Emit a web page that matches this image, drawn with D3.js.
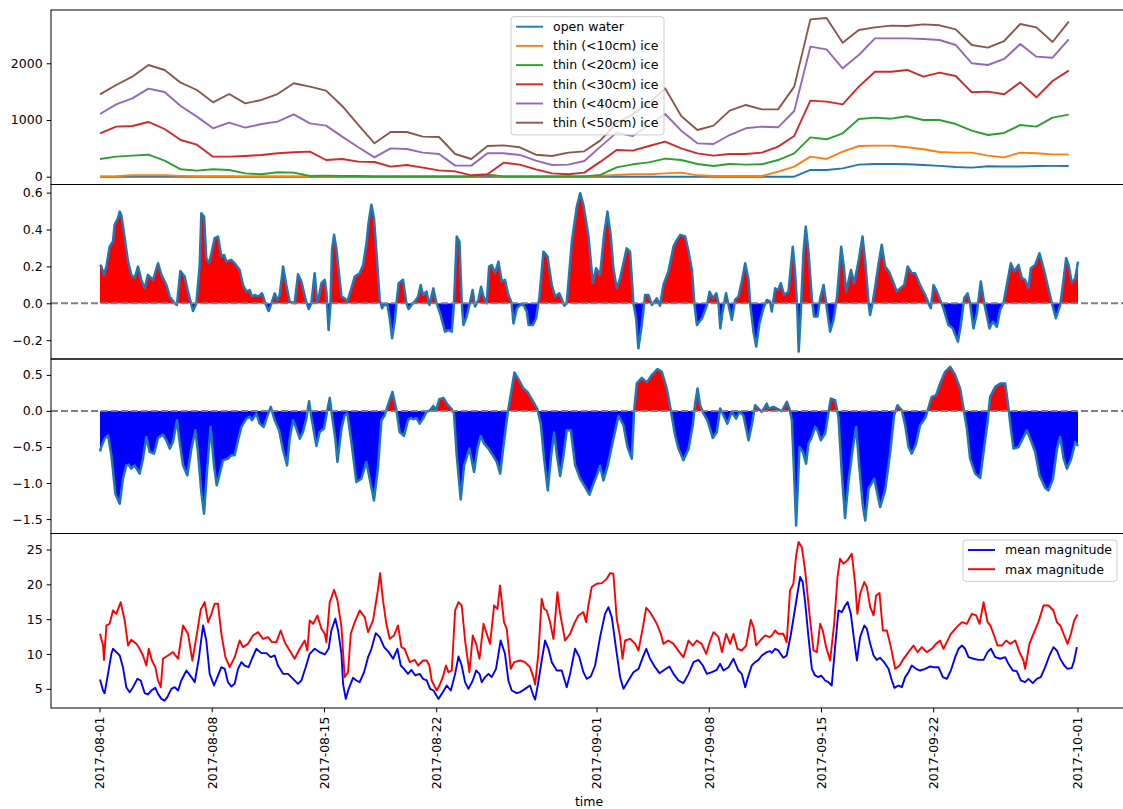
<!DOCTYPE html>
<html>
<head>
<meta charset="utf-8">
<script src="https://cdn.jsdelivr.net/npm/d3@7"></script>
<style>
  body { margin: 0; background: #fff; }
  svg { display: block; font-family: "DejaVu Sans", sans-serif; }
</style>
</head>
<body>
<svg id="chart" width="1123" height="809"></svg>
<script>
// ---- panel 1: thin ice area, one value per day ----
const iceLabels = ["open water", "thin (<10cm) ice", "thin (<20cm) ice", "thin (<30cm) ice", "thin (<40cm) ice", "thin (<50cm) ice"];
const iceColours = ["#1f77b4", "#ff7f0e", "#2ca02c", "#d62728", "#9467bd", "#8c564b"];

const openWater = [0,0,0,0,0,0,0,0,0,0,0,0,0,0,0,0,0,0,0,0,0,0,0,0,0,0,0,0,0,0,0,0,0,0,0,0,0,0,0,0,0,0,0,0,
  118,118,147,212,224,224,218,206,190,170,160,185,180,180,188,190,188];
const ice10 = [5,10,25,25,25,15,10,10,10,5,5,5,5,5,5,5,5,5,5,5,5,5,5,5,30,5,5,5,5,5,5,
  18,30,42,42,59,71,24,12,12,12,12,88,177,353,312,441,541,547,547,518,483,435,424,424,371,341,424,412,394,394];
const ice20 = [312,353,371,388,283,130,106,130,118,59,42,77,71,12,18,12,12,6,6,6,6,6,6,6,36,6,6,6,6,6,6,
  30,165,218,253,318,294,224,188,224,212,218,294,412,694,659,765,1018,1041,1023,1065,1000,1000,929,812,735,771,912,882,1041,1094];
const ice30 = [765,882,894,965,841,647,565,353,353,365,383,412,430,441,294,312,265,259,177,206,159,112,94,24,42,247,212,130,59,42,71,
  265,471,459,541,618,500,412,371,400,400,424,530,718,1341,1323,1276,1588,1852,1852,1882,1764,1835,1776,1488,1500,1453,1664,1400,1688,1870];
const ice40 = [1106,1276,1382,1553,1494,1247,1059,853,953,865,929,971,1100,941,900,706,518,341,500,488,424,400,195,195,412,412,383,283,206,212,277,
  530,777,718,912,1106,812,588,577,735,853,882,871,1159,2293,2246,1911,2146,2440,2440,2440,2428,2411,2323,2000,1970,2076,2340,2117,2099,2423];
const ice50 = [1453,1617,1764,1970,1882,1658,1529,1312,1458,1294,1353,1458,1647,1588,1517,1247,912,588,788,788,706,700,400,312,541,553,518,388,365,424,447,
  640,950,1100,1300,1558,1070,824,900,1165,1265,1188,1188,1588,2775,2799,2364,2587,2634,2664,2658,2687,2670,2599,2323,2276,2393,2693,2634,2376,2734];
const iceSeries = [openWater, ice10, ice20, ice30, ice40, ice50];
const iceDays = d3.range(openWater.length).map(i => i * 1.007);

// ---- panels 2 and 3: [day since 2017-08-01, value] ----
const panel2 = [[0,0.208],[0.08,0.2],[0.25,0.154],[0.4,0.2],[0.6,0.307],[0.81,0.335],[0.91,0.425],[1.12,0.461],[1.23,0.497],[1.33,0.479],[1.54,0.353],[1.75,0.226],[1.95,0.154],[2.16,0.136],[2.37,0.199],[2.58,0.127],[2.79,0.081],[2.99,0.154],[3.31,0.127],[3.62,0.217],[3.83,0.154],[4.14,0.099],[4.35,0.036],[4.66,0],[4.8,-0.009],[5.01,0.175],[5.28,0.145],[5.49,0.063],[5.8,-0.042],[6.01,0],[6.22,0.208],[6.32,0.488],[6.49,0.47],[6.63,0.244],[6.8,0.217],[6.95,0.271],[7.15,0.353],[7.36,0.362],[7.57,0.253],[7.74,0.262],[7.88,0.226],[8.19,0.235],[8.4,0.217],[8.71,0.181],[8.92,0.099],[9.13,0.063],[9.34,0.072],[9.48,0.036],[9.65,0.045],[9.86,0.036],[10.11,0.054],[10.31,0],[10.52,-0.042],[10.69,0],[10.9,0.054],[11.06,0.018],[11.21,0.045],[11.42,0.199],[11.62,0.099],[11.83,0.009],[12.14,0],[12.35,0.157],[12.56,0.118],[12.83,0.018],[13.02,-0.031],[13.18,0],[13.39,0.163],[13.54,0.009],[13.64,0.027],[13.81,0.109],[14.02,0.127],[14.12,0.063],[14.26,-0.145],[14.37,-0.009],[14.47,0.289],[14.6,0.371],[14.74,0.298],[15.06,0.036],[15.26,0.027],[15.43,0.009],[15.68,0.081],[15.89,0.145],[16.2,0.163],[16.41,0.208],[16.61,0.317],[16.76,0.443],[16.93,0.534],[17.09,0.461],[17.24,0.28],[17.45,0.018],[17.59,-0.027],[17.72,-0.009],[17.93,-0.009],[18.07,-0.081],[18.22,-0.19],[18.38,-0.099],[18.49,0],[18.63,0.109],[18.9,0.127],[19.11,0],[19.25,-0.031],[19.42,-0.009],[19.63,0.009],[19.84,0.036],[20.0,0.099],[20.15,0.045],[20.36,0.063],
  [20.55,-0.009],[20.79,0.081],[20.96,0.009],[21.21,-0.054],[21.52,-0.154],[21.73,-0.145],[21.94,-0.154],[22.08,0],[22.25,0.362],[22.42,0.335],[22.56,0.009],[22.67,-0.118],[22.87,-0.072],[23.04,-0.009],[23.24,0.072],[23.39,-0.018],[23.6,0.018],[23.77,0.09],[23.92,0.036],[24.12,0],[24.27,0.199],[24.43,0.208],[24.64,0.163],[24.85,0.226],[25.06,0.118],[25.26,0.127],[25.47,0.045],[25.68,0],[25.79,-0.109],[26.0,-0.027],[26.21,-0.009],[26.42,-0.009],[26.62,-0.045],[26.73,-0.118],[27.0,-0.118],[27.2,-0.081],[27.41,0.036],[27.66,0.28],[27.91,0.253],[28.18,0.099],[28.39,0.036],[28.65,0.054],[28.96,-0.013],[29.11,0],[29.43,0.335],[29.74,0.525],[29.95,0.597],[30.15,0.534],[30.47,0.362],[30.74,0.109],[30.94,0.19],[31.19,0.154],[31.44,0.371],[31.65,0.497],[31.85,0.371],[32.02,0.19],[32.23,0.081],[32.44,0.136],[32.69,0.235],[32.85,0.298],[33.06,0.28],[33.27,0],[33.44,-0.081],[33.58,-0.244],[33.79,-0.118],[34.0,0.045],[34.21,0.045],[34.42,-0.009],[34.73,0.027],[34.93,-0.013],[35.14,0.099],[35.45,0.172],[35.77,0.307],[35.98,0.344],[36.19,0.371],[36.5,0.362],[36.71,0.28],[36.92,0.181],[37.07,0],[37.23,-0.118],[37.55,-0.081],[37.86,-0.009],[38.02,0.063],[38.23,0.027],[38.44,0.054],[38.58,0],[38.69,-0.136],[38.85,-0.036],[39.05,0.054],[39.2,-0.009],[39.41,-0.09],[39.61,0.018],[39.82,0.036],[40.03,0.118],[40.24,0.217],[40.45,0.127],[40.55,0],[40.76,-0.154],[40.93,-0.235],[41.13,-0.109],[41.38,-0.027],[41.59,0.018],
  [41.79,0.009],[41.9,-0.045],[42.11,0.081],[42.31,0.072],[42.46,0.109],[42.67,0.045],[42.94,0.063],[43.21,0.307],[43.35,0.172],[43.5,-0.045],[43.58,-0.262],[43.71,-0.045],[43.88,0.28],[44.02,0.416],[44.19,0.28],[44.4,0.027],[44.54,-0.072],[44.75,-0.072],[44.92,0.027],[45.13,0.099],[45.29,0],[45.54,-0.154],[45.75,-0.09],[45.96,0.027],[46.23,0.307],[46.38,0.208],[46.54,0.063],[46.84,0.181],[47.04,0.109],[47.31,0.226],[47.56,0.362],[47.73,0.226],[47.94,0],[48.03,-0.063],[48.2,0.009],[48.35,0.09],[48.55,0.208],[48.76,0.317],[48.97,0.199],[49.23,0.168],[49.5,0.109],[49.7,0.063],[49.91,0.081],[50.16,0.099],[50.38,0.199],[50.63,0.163],[50.84,0.163],[51.15,0.099],[51.47,0.045],[51.67,0],[51.82,-0.027],[51.99,0.099],[52.2,0.063],[52.4,0.018],[52.61,-0.027],[52.92,-0.118],[53.19,-0.136],[53.51,-0.208],[53.69,-0.118],[53.9,0.027],[54.11,0.054],[54.27,0],[54.48,-0.136],[54.69,-0.054],[54.94,0.118],[55.15,0],[55.48,-0.136],[55.69,-0.099],[55.94,-0.127],[56.14,-0.036],[56.35,0],[56.6,0.118],[56.81,0.217],[57.02,0.172],[57.29,0.208],[57.5,0.136],[57.7,0.127],[57.91,0.081],[58.06,0.19],[58.33,0.208],[58.6,0.271],[58.85,0.19],[59.1,0.099],[59.37,0],[59.62,-0.081],[59.89,-0.009],[60.06,0.099],[60.26,0.244],[60.41,0.208],[60.62,0.109],[60.83,0.136],[61.0,0.226]];

const panel3 = [[0,-0.56],[0.08,-0.5],[0.29,-0.384],[0.5,-0.338],[0.71,-0.616],[0.96,-1.148],[1.23,-1.287],[1.43,-0.94],[1.64,-0.755],[1.79,-0.745],[1.95,-0.801],[2.16,-0.755],[2.47,-0.87],[2.68,-0.662],[2.89,-0.361],[3.1,-0.569],[3.37,-0.593],[3.62,-0.375],[3.93,-0.329],[4.14,-0.407],[4.35,-0.523],[4.55,-0.431],[4.8,-0.13],[4.97,-0.431],[5.18,-0.755],[5.45,-0.894],[5.7,-0.523],[5.95,-0.269],[6.11,-0.569],[6.32,-1.125],[6.49,-1.426],[6.67,-0.847],[6.9,-0.222],[7.11,-0.755],[7.28,-1.032],[7.47,-0.87],[7.67,-0.685],[7.98,-0.662],[8.19,-0.616],[8.4,-0.616],[8.61,-0.407],[8.82,-0.222],[9.13,-0.106],[9.34,-0.083],[9.48,-0.13],[9.75,-0.037],[9.96,-0.176],[10.21,-0.222],[10.42,-0.083],[10.65,0.056],[10.9,-0.13],[11.17,-0.269],[11.42,-0.546],[11.67,-0.755],[11.83,-0.384],[12.04,-0.13],[12.25,-0.245],[12.46,-0.384],[12.66,-0.292],[12.87,-0.106],[13.04,0.134],[13.18,-0.083],[13.5,-0.486],[13.7,-0.292],[13.97,-0.245],[14.18,0.009],[14.33,0.181],[14.47,-0.06],[14.68,-0.384],[14.81,-0.708],[15.06,-0.245],[15.26,-0.06],[15.43,-0.037],[15.68,-0.431],[15.99,-0.986],[16.3,-0.94],[16.61,-0.708],[16.82,-0.94],[17.09,-1.241],[17.34,-0.778],[17.55,-0.13],[17.76,-0.06],[17.96,0.079],[18.24,0.264],[18.49,0.009],[18.69,-0.292],[18.96,-0.347],[19.21,-0.13],[19.38,-0.097],[19.53,-0.116],[19.73,-0.097],[19.94,-0.176],[20.15,-0.106],[20.36,-0.014],
  [20.58,0.009],[20.79,0.069],[20.96,0.009],[21.17,0.162],[21.42,0.181],[21.63,0.102],[21.94,0.023],[22.08,-0.037],[22.25,-0.616],[22.5,-1.227],[22.71,-0.755],[23.04,-0.523],[23.33,-0.847],[23.54,-0.523],[23.75,-0.347],[23.96,-0.454],[24.23,-0.523],[24.5,-0.616],[24.75,-0.708],[24.96,-0.87],[25.17,-0.477],[25.41,-0.06],[25.58,0.171],[25.85,0.532],[26.14,0.426],[26.41,0.31],[26.66,0.264],[27.03,0.125],[27.28,0.023],[27.49,-0.176],[27.7,-0.662],[27.93,-1.102],[28.14,-0.616],[28.32,-0.301],[28.53,-0.662],[28.7,-0.903],[28.91,-0.616],[29.11,-0.269],[29.36,-0.269],[29.64,-0.755],[29.95,-0.94],[30.26,-1.056],[30.53,-1.162],[30.74,-1.032],[30.98,-0.894],[31.19,-0.764],[31.4,-0.963],[31.67,-0.755],[31.98,-0.431],[32.34,-0.069],[32.65,-0.199],[32.9,-0.5],[33.17,-0.662],[33.31,-0.014],[33.48,0.38],[33.79,0.458],[34.1,0.394],[34.41,0.495],[34.77,0.579],[35.04,0.542],[35.35,0.31],[35.6,0.009],[35.87,-0.338],[36.08,-0.523],[36.39,-0.685],[36.71,-0.523],[36.97,-0.199],[37.12,0.102],[37.27,0.31],[37.43,0.079],[37.64,-0.037],[37.89,-0.13],[38.22,-0.375],[38.47,-0.292],[38.68,0.032],[38.89,-0.06],[39.13,-0.176],[39.4,-0.014],[39.68,-0.106],[39.88,-0.014],[40.13,-0.06],[40.45,-0.407],[40.65,-0.199],[40.86,0.079],[41.07,0.032],[41.28,-0.014],[41.59,0.102],
  [41.69,0.032],[42.0,0.056],[42.31,0.023],[42.52,-0.005],[42.84,0.125],[43.0,0.032],[43.15,-0.125],[43.29,-0.847],[43.42,-1.588],[43.63,-0.5],[43.84,-0.569],[44.04,-0.731],[44.19,-0.454],[44.4,-0.361],[44.61,-0.222],[44.75,-0.269],[44.96,-0.407],[45.23,-0.315],[45.43,-0.037],[45.58,0.171],[45.85,0.148],[46.06,-0.083],[46.27,-0.87],[46.47,-1.486],[46.68,-0.986],[46.95,-0.523],[47.16,-0.222],[47.37,-0.801],[47.58,-1.31],[47.73,-1.519],[47.94,-1.079],[48.29,-0.94],[48.66,-1.333],[48.97,-1.102],[49.29,-0.569],[49.53,-0.06],[49.74,0.079],[50.01,0.009],[50.22,-0.199],[50.43,-0.5],[50.63,-0.593],[50.9,-0.454],[51.15,-0.199],[51.47,-0.097],[51.67,0.042],[51.88,0.194],[52.15,0.218],[52.4,0.38],[52.71,0.542],[53.03,0.611],[53.34,0.495],[53.65,0.31],[53.86,0.032],[54.07,-0.245],[54.27,-0.662],[54.59,-0.87],[54.9,-0.931],[55.11,-0.569],[55.36,-0.153],[55.52,0.194],[55.84,0.333],[56.15,0.38],[56.46,0.38],[56.67,0.032],[56.81,-0.245],[56.98,-0.523],[57.29,-0.5],[57.6,-0.361],[57.81,-0.269],[58.02,-0.384],[58.33,-0.569],[58.6,-0.894],[58.96,-1.069],[59.16,-1.102],[59.44,-0.94],[59.69,-0.523],[59.89,-0.361],[60.1,-0.662],[60.31,-0.801],[60.58,-0.662],[60.83,-0.431],[61.0,-0.486]];

// ---- panel 4: magnitudes ----
const meanMag = [[0,6.34],[0.19,4.76],[0.29,4.38],[0.5,7.15],[0.71,10.03],[0.81,10.75],[1.02,10.27],[1.23,9.79],[1.43,8.11],[1.64,5.24],[1.85,4.52],[2.06,5.24],[2.33,6.44],[2.54,6.2],[2.79,4.38],[2.99,4.19],[3.2,4.76],[3.45,5.14],[3.62,4.28],[3.83,3.56],[4.03,3.32],[4.2,3.8],[4.45,5.0],[4.66,5.24],[4.87,4.76],[5.07,6.2],[5.39,7.63],[5.7,6.68],[5.91,5.96],[6.16,9.32],[6.43,14.11],[6.63,11.94],[6.84,7.15],[7.11,5.48],[7.32,6.68],[7.57,8.11],[7.78,7.87],[7.98,5.96],[8.19,5.34],[8.4,5.72],[8.61,7.87],[8.82,8.83],[9.02,8.35],[9.27,8.11],[9.48,9.32],[9.75,10.75],[10.06,10.13],[10.38,10.13],[10.65,9.55],[10.9,9.79],[11.1,8.35],[11.42,7.15],[11.73,7.15],[12.04,6.44],[12.35,5.72],[12.56,6.2],[12.83,8.11],[13.08,10.03],[13.39,10.75],[13.7,10.27],[14.02,9.94],[14.26,10.75],[14.43,13.38],[14.68,15.06],[14.85,13.38],[15.06,10.03],[15.16,5.72],[15.33,3.56],[15.51,5.0],[15.78,6.58],[15.99,6.2],[16.2,5.96],[16.47,7.39],[16.72,9.55],[16.93,10.75],[17.2,13.0],[17.45,12.42],[17.72,10.99],[18.01,10.27],[18.28,9.32],[18.55,10.75],[18.76,8.35],[18.96,7.87],[19.21,7.15],[19.42,7.73],[19.67,6.92],[19.94,7.15],[20.15,6.44],
  [20.38,6.2],[20.59,5.0],[20.8,4.76],[21.11,3.56],[21.38,4.52],[21.63,5.48],[21.88,4.76],[22.15,7.15],[22.36,9.64],[22.56,8.35],[22.77,5.96],[22.98,5.0],[23.25,6.2],[23.46,7.63],[23.67,7.15],[23.81,5.96],[24.02,6.68],[24.23,7.15],[24.43,6.68],[24.7,7.87],[24.99,11.94],[25.26,10.03],[25.47,6.2],[25.68,4.76],[25.99,4.38],[26.2,4.52],[26.51,5.0],[26.82,5.48],[27.03,4.04],[27.14,3.46],[27.34,5.96],[27.55,9.07],[27.76,11.94],[27.97,10.75],[28.18,8.83],[28.49,7.63],[28.8,7.63],[29.11,5.24],[29.32,7.15],[29.63,10.75],[29.9,9.55],[30.15,7.39],[30.36,6.44],[30.61,6.77],[30.88,8.35],[31.19,12.42],[31.5,15.77],[31.71,16.73],[31.92,15.3],[32.19,10.75],[32.44,6.68],[32.65,5.0],[32.96,6.2],[33.27,7.39],[33.59,7.87],[33.86,9.55],[34.07,10.75],[34.31,9.32],[34.62,8.11],[34.9,7.25],[35.14,7.63],[35.52,8.21],[35.77,7.15],[36.08,6.2],[36.39,5.82],[36.71,7.15],[37.02,8.83],[37.33,9.16],[37.6,8.35],[37.85,7.15],[38.16,7.39],[38.47,7.73],[38.68,8.59],[38.89,7.63],[39.2,8.11],[39.51,9.32],[39.82,7.63],[40.03,7.15],[40.24,5.24],[40.45,6.92],[40.65,8.35],[40.86,8.83],[41.07,9.16],[41.28,9.79],[41.59,10.27],[41.8,10.41],
  [41.9,10.17],[42.11,10.75],[42.31,10.51],[42.62,9.46],[42.83,9.79],[43.08,12.66],[43.25,15.06],[43.5,18.65],[43.67,21.05],[43.83,20.33],[43.98,17.45],[44.19,12.42],[44.4,7.87],[44.6,6.92],[44.81,6.68],[44.98,6.92],[45.23,6.2],[45.43,5.96],[45.64,5.48],[45.85,10.99],[46.06,16.25],[46.27,16.01],[46.48,16.97],[46.63,17.45],[46.83,15.77],[47.04,11.94],[47.21,9.07],[47.41,12.42],[47.67,14.1],[47.83,13.62],[48.04,11.46],[48.25,9.79],[48.45,9.16],[48.66,9.46],[48.91,8.83],[49.18,7.87],[49.39,6.2],[49.55,5.14],[49.8,5.48],[50.01,5.24],[50.22,6.68],[50.43,7.39],[50.63,8.35],[50.9,7.87],[51.15,7.63],[51.47,7.87],[51.78,8.21],[51.99,8.11],[52.3,8.11],[52.57,6.68],[52.82,6.44],[53.07,7.63],[53.34,9.55],[53.55,10.75],[53.76,11.22],[53.96,10.75],[54.17,9.55],[54.48,9.32],[54.79,9.16],[55.11,9.16],[55.36,10.27],[55.57,10.75],[55.84,9.55],[56.15,9.32],[56.46,9.55],[56.66,8.59],[56.93,7.63],[57.18,7.54],[57.43,6.2],[57.7,5.96],[57.91,6.44],[58.18,5.82],[58.43,6.44],[58.68,6.68],[58.95,8.11],[59.22,9.79],[59.47,10.99],[59.68,10.51],[59.89,9.32],[60.14,8.35],[60.35,7.87],[60.62,8.02],[60.76,9.07],[60.93,10.99]];

const maxMag = [[0,12.9],[0.19,11.22],[0.25,9.16],[0.4,14.1],[0.6,14.34],[0.81,16.25],[1.02,15.77],[1.29,17.45],[1.54,14.82],[1.75,11.22],[1.95,12.04],[2.27,11.46],[2.47,10.75],[2.68,9.79],[2.89,8.35],[3.04,10.75],[3.24,9.07],[3.45,8.11],[3.62,6.2],[3.79,5.24],[3.93,9.32],[4.24,9.79],[4.55,10.27],[4.87,9.32],[5.18,14.1],[5.49,12.9],[5.76,9.07],[6.01,12.42],[6.28,16.35],[6.53,17.45],[6.74,14.58],[6.95,15.77],[7.15,17.21],[7.36,17.21],[7.57,12.9],[7.82,9.55],[8.09,8.11],[8.4,9.55],[8.71,11.94],[8.92,10.99],[9.23,11.46],[9.54,12.66],[9.86,13.14],[10.17,12.18],[10.48,12.42],[10.73,11.7],[11.0,11.7],[11.27,13.38],[11.52,11.7],[11.83,10.51],[12.14,9.32],[12.46,10.75],[12.77,11.94],[12.93,10.51],[13.08,14.82],[13.29,14.34],[13.56,15.54],[13.81,13.62],[14.02,12.9],[14.12,11.7],[14.33,17.45],[14.6,19.22],[14.81,17.69],[15.06,13.86],[15.26,6.68],[15.47,7.39],[15.64,12.9],[15.89,14.58],[16.2,16.25],[16.51,15.29],[16.72,13.14],[17.03,14.82],[17.3,18.65],[17.47,21.62],[17.65,17.69],[17.86,14.34],[18.07,12.18],[18.34,12.66],[18.59,14.1],[18.8,10.99],[19.0,10.75],[19.32,8.83],[19.63,9.16],[19.84,8.35],[20.15,9.07],
  [20.38,9.07],[20.54,8.35],[20.69,6.2],[21.0,4.76],[21.17,5.48],[21.38,6.68],[21.58,8.35],[21.73,7.39],[21.94,7.63],[22.15,16.25],[22.36,17.45],[22.56,16.97],[22.77,11.94],[23.04,7.39],[23.25,12.66],[23.46,11.46],[23.67,9.32],[23.92,14.34],[24.12,12.9],[24.33,11.46],[24.58,16.97],[24.79,16.49],[24.95,19.84],[25.2,14.58],[25.37,13.62],[25.62,7.87],[25.83,8.83],[26.2,9.07],[26.51,8.83],[26.82,8.11],[27.03,6.68],[27.14,5.63],[27.34,10.03],[27.55,17.93],[27.7,16.49],[27.86,16.25],[28.07,14.58],[28.28,12.18],[28.53,18.89],[28.7,15.77],[29.01,11.94],[29.32,12.9],[29.57,14.34],[29.84,15.54],[30.15,16.01],[30.32,14.58],[30.46,16.97],[30.67,19.61],[30.98,20.09],[31.3,20.18],[31.61,20.79],[31.82,21.62],[32.02,21.52],[32.23,15.06],[32.44,12.42],[32.59,9.32],[32.75,11.94],[33.07,12.18],[33.38,11.46],[33.59,10.51],[33.86,13.86],[34.07,16.64],[34.31,16.01],[34.73,14.34],[34.98,12.9],[35.14,11.46],[35.45,11.94],[35.77,11.46],[36.14,10.27],[36.39,9.55],[36.71,11.94],[36.98,11.22],[37.22,11.94],[37.53,11.46],[37.81,10.03],[38.06,11.94],[38.27,13.14],[38.58,12.42],[38.79,10.27],[39.06,12.9],[39.3,11.46],[39.51,12.9],[39.76,10.75],[40.03,10.51],[40.3,11.22],[40.59,14.92],[40.76,13.86],[40.93,11.22],[41.18,11.94],[41.49,12.66],[41.76,12.42],
  [41.9,12.66],[42.11,13.38],[42.31,12.9],[42.62,12.9],[42.83,11.7],[43.04,19.13],[43.25,20.09],[43.42,24.16],[43.57,26.08],[43.77,25.36],[43.98,22.0],[44.25,15.77],[44.5,10.51],[44.71,10.27],[44.92,14.34],[45.08,13.38],[45.29,10.99],[45.54,9.07],[45.79,14.34],[46.0,21.05],[46.16,23.68],[46.37,22.96],[46.62,23.44],[46.89,24.4],[47.1,20.09],[47.24,15.77],[47.41,18.65],[47.67,20.33],[47.83,19.61],[48.04,16.73],[48.25,15.54],[48.41,18.41],[48.62,18.75],[48.83,13.38],[49.08,13.38],[49.33,10.99],[49.6,7.87],[49.87,8.35],[50.12,9.31],[50.43,10.27],[50.74,11.22],[50.99,10.27],[51.26,10.99],[51.57,10.27],[51.88,10.75],[52.15,11.46],[52.4,11.94],[52.61,10.75],[52.82,11.7],[53.07,12.9],[53.44,13.86],[53.76,14.58],[54.07,14.34],[54.38,15.77],[54.65,15.54],[54.86,14.34],[55.11,17.45],[55.36,14.58],[55.53,14.1],[55.73,12.9],[55.98,11.22],[56.25,11.22],[56.52,11.94],[56.77,11.46],[57.09,11.94],[57.35,10.27],[57.6,9.07],[57.7,7.87],[57.97,11.46],[58.22,12.9],[58.53,14.58],[58.85,16.97],[59.16,16.97],[59.47,16.25],[59.68,14.58],[59.89,14.1],[60.14,12.66],[60.35,11.46],[60.56,12.9],[60.76,14.82],[60.97,15.68]];

const magLabels = ["mean magnitude", "max magnitude"];
const magColours = ["#0000ff", "#ff0000"];

const xTickDates = ["2017-08-01", "2017-08-08", "2017-08-15", "2017-08-22", "2017-09-01",
  "2017-09-08", "2017-09-15", "2017-09-22", "2017-10-01"];

// ---- layout ----
const axLeft = 51, axRight = 1127;
const edges = [10, 184.5, 359, 533.5, 708];
const fontSize = "12.5px";

const svg = d3.select("#chart");
const t0 = Date.UTC(2017, 7, 1);
const toDate = (d) => new Date(t0 + d * 864e5);
const parse = d3.utcParse("%Y-%m-%d");

const x = d3.scaleUtc()
    .domain([parse("2017-08-01"), parse("2017-10-01")])
    .range([100, 1078]);

const yScales = [
    d3.scaleLinear().domain([-138, 2940]).range([edges[1], edges[0]]),
    d3.scaleLinear().domain([-0.302, 0.644]).range([edges[2], edges[1]]),
    d3.scaleLinear().domain([-1.70, 0.72]).range([edges[3], edges[2]]),
    d3.scaleLinear().domain([2.25, 27.3]).range([edges[4], edges[3]]),
];
const yTicks = [[0, 1000, 2000], [-0.2, 0, 0.2, 0.4, 0.6], [-1.5, -1, -0.5, 0, 0.5], [5, 10, 15, 20, 25]];
const yFormats = [d3.format("d"), d3.format(".1f"), d3.format(".1f"), d3.format("d")];

const defs = svg.append("defs");
const panels = yScales.map((y, k) => {
    const top = edges[k], bottom = edges[k + 1];
    defs.append("clipPath").attr("id", "clip" + k)
        .append("rect").attr("x", axLeft).attr("y", top)
        .attr("width", axRight - axLeft).attr("height", bottom - top);
    return svg.append("g").attr("clip-path", `url(#clip${k})`);
});

// panel 1 lines
const iceLine = d3.line()
    .x((d, i) => x(toDate(iceDays[i])))
    .y((d) => yScales[0](d));
panels[0].selectAll("path.ice")
    .data(iceSeries)
    .join("path")
    .attr("class", "ice")
    .attr("d", iceLine)
    .attr("fill", "none")
    .attr("stroke", (d, i) => iceColours[i])
    .attr("stroke-width", 1.9)
    .attr("stroke-linejoin", "round");

// panels 2 and 3: red above zero, blue below, outlined
[[panel2, 1], [panel3, 2]].forEach(([data, k]) => {
    const y = yScales[k];
    const y0 = y(0);
    const top = edges[k], bottom = edges[k + 1];
    defs.append("clipPath").attr("id", "pos" + k)
        .append("rect").attr("x", axLeft).attr("y", top)
        .attr("width", axRight - axLeft).attr("height", y0 - top);
    defs.append("clipPath").attr("id", "neg" + k)
        .append("rect").attr("x", axLeft).attr("y", y0)
        .attr("width", axRight - axLeft).attr("height", bottom - y0);

    const area = d3.area()
        .x((d) => x(toDate(d[0])))
        .y0(y0)
        .y1((d) => y(d[1]));
    const line = d3.line()
        .x((d) => x(toDate(d[0])))
        .y((d) => y(d[1]));

    panels[k].append("path").attr("d", area(data))
        .attr("fill", "#ff0000").attr("clip-path", `url(#pos${k})`);
    panels[k].append("path").attr("d", area(data))
        .attr("fill", "#0000ff").attr("clip-path", `url(#neg${k})`);
    panels[k].append("path").attr("d", line(data))
        .attr("fill", "none")
        .attr("stroke", "#1f77b4")
        .attr("stroke-width", 2.5)
        .attr("stroke-linejoin", "round");
    panels[k].append("line")
        .attr("x1", axLeft).attr("x2", axRight)
        .attr("y1", y0).attr("y2", y0)
        .attr("stroke", "#808080")
        .attr("stroke-width", 2)
        .attr("stroke-dasharray", "7,3");
});

// panel 4 lines
const magLine = d3.line()
    .x((d) => x(toDate(d[0])))
    .y((d) => yScales[3](d[1]));
panels[3].selectAll("path.mag")
    .data([meanMag, maxMag])
    .join("path")
    .attr("class", "mag")
    .attr("d", magLine)
    .attr("fill", "none")
    .attr("stroke", (d, i) => magColours[i])
    .attr("stroke-width", 1.9)
    .attr("stroke-linejoin", "round");

// frames and y axes
yScales.forEach((y, k) => {
    const top = edges[k], bottom = edges[k + 1];
    svg.append("rect")
        .attr("x", axLeft).attr("y", top)
        .attr("width", axRight - axLeft).attr("height", bottom - top)
        .attr("fill", "none").attr("stroke", "#000").attr("stroke-width", 1);

    const ax = svg.append("g")
        .attr("transform", `translate(${axLeft},0)`)
        .call(d3.axisLeft(y).tickValues(yTicks[k]).tickFormat(yFormats[k])
            .tickSize(4.4).tickPadding(4));
    ax.select(".domain").remove();
    ax.selectAll("text").attr("font-size", fontSize).attr("font-family", "DejaVu Sans").attr("fill", "#000");
});

// x axis on the bottom panel
const xAx = svg.append("g").attr("transform", `translate(0,${edges[4]})`);
xTickDates.forEach((s) => {
    const px = x(parse(s));
    xAx.append("line").attr("x1", px).attr("x2", px).attr("y1", 0).attr("y2", 4.4)
        .attr("stroke", "#000");
    xAx.append("text")
        .attr("transform", `translate(${px},8.5) rotate(-90)`)
        .attr("text-anchor", "end")
        .attr("dy", "0.35em")
        .attr("font-size", fontSize)
        .text(s);
});
svg.append("text")
    .attr("x", (axLeft + axRight) / 2).attr("y", 806)
    .attr("text-anchor", "middle")
    .attr("font-size", fontSize)
    .text("time");

// legends
const legend = (lx, ly, w, rowY, labels, colours) => {
    const g = svg.append("g");
    g.append("rect")
        .attr("x", lx).attr("y", ly).attr("width", w).attr("height", rowY.length * 19.2 + 3)
        .attr("rx", 3)
        .attr("fill", "#fff").attr("fill-opacity", 0.8)
        .attr("stroke", "#cccccc");
    labels.forEach((lab, i) => {
        const yy = ly + 10 + i * 19.2;
        g.append("line").attr("x1", lx + 5).attr("x2", lx + 32)
            .attr("y1", yy).attr("y2", yy)
            .attr("stroke", colours[i]).attr("stroke-width", 1.9);
        g.append("text").attr("x", lx + 42).attr("y", yy)
            .attr("dy", "0.35em")
            .attr("font-size", fontSize)
            .text(lab);
    });
};
legend(511, 16.7, 153, iceLabels, iceLabels, iceColours);
legend(963, 540, 154, magLabels, magLabels, magColours);
</script>
</body>
</html>
